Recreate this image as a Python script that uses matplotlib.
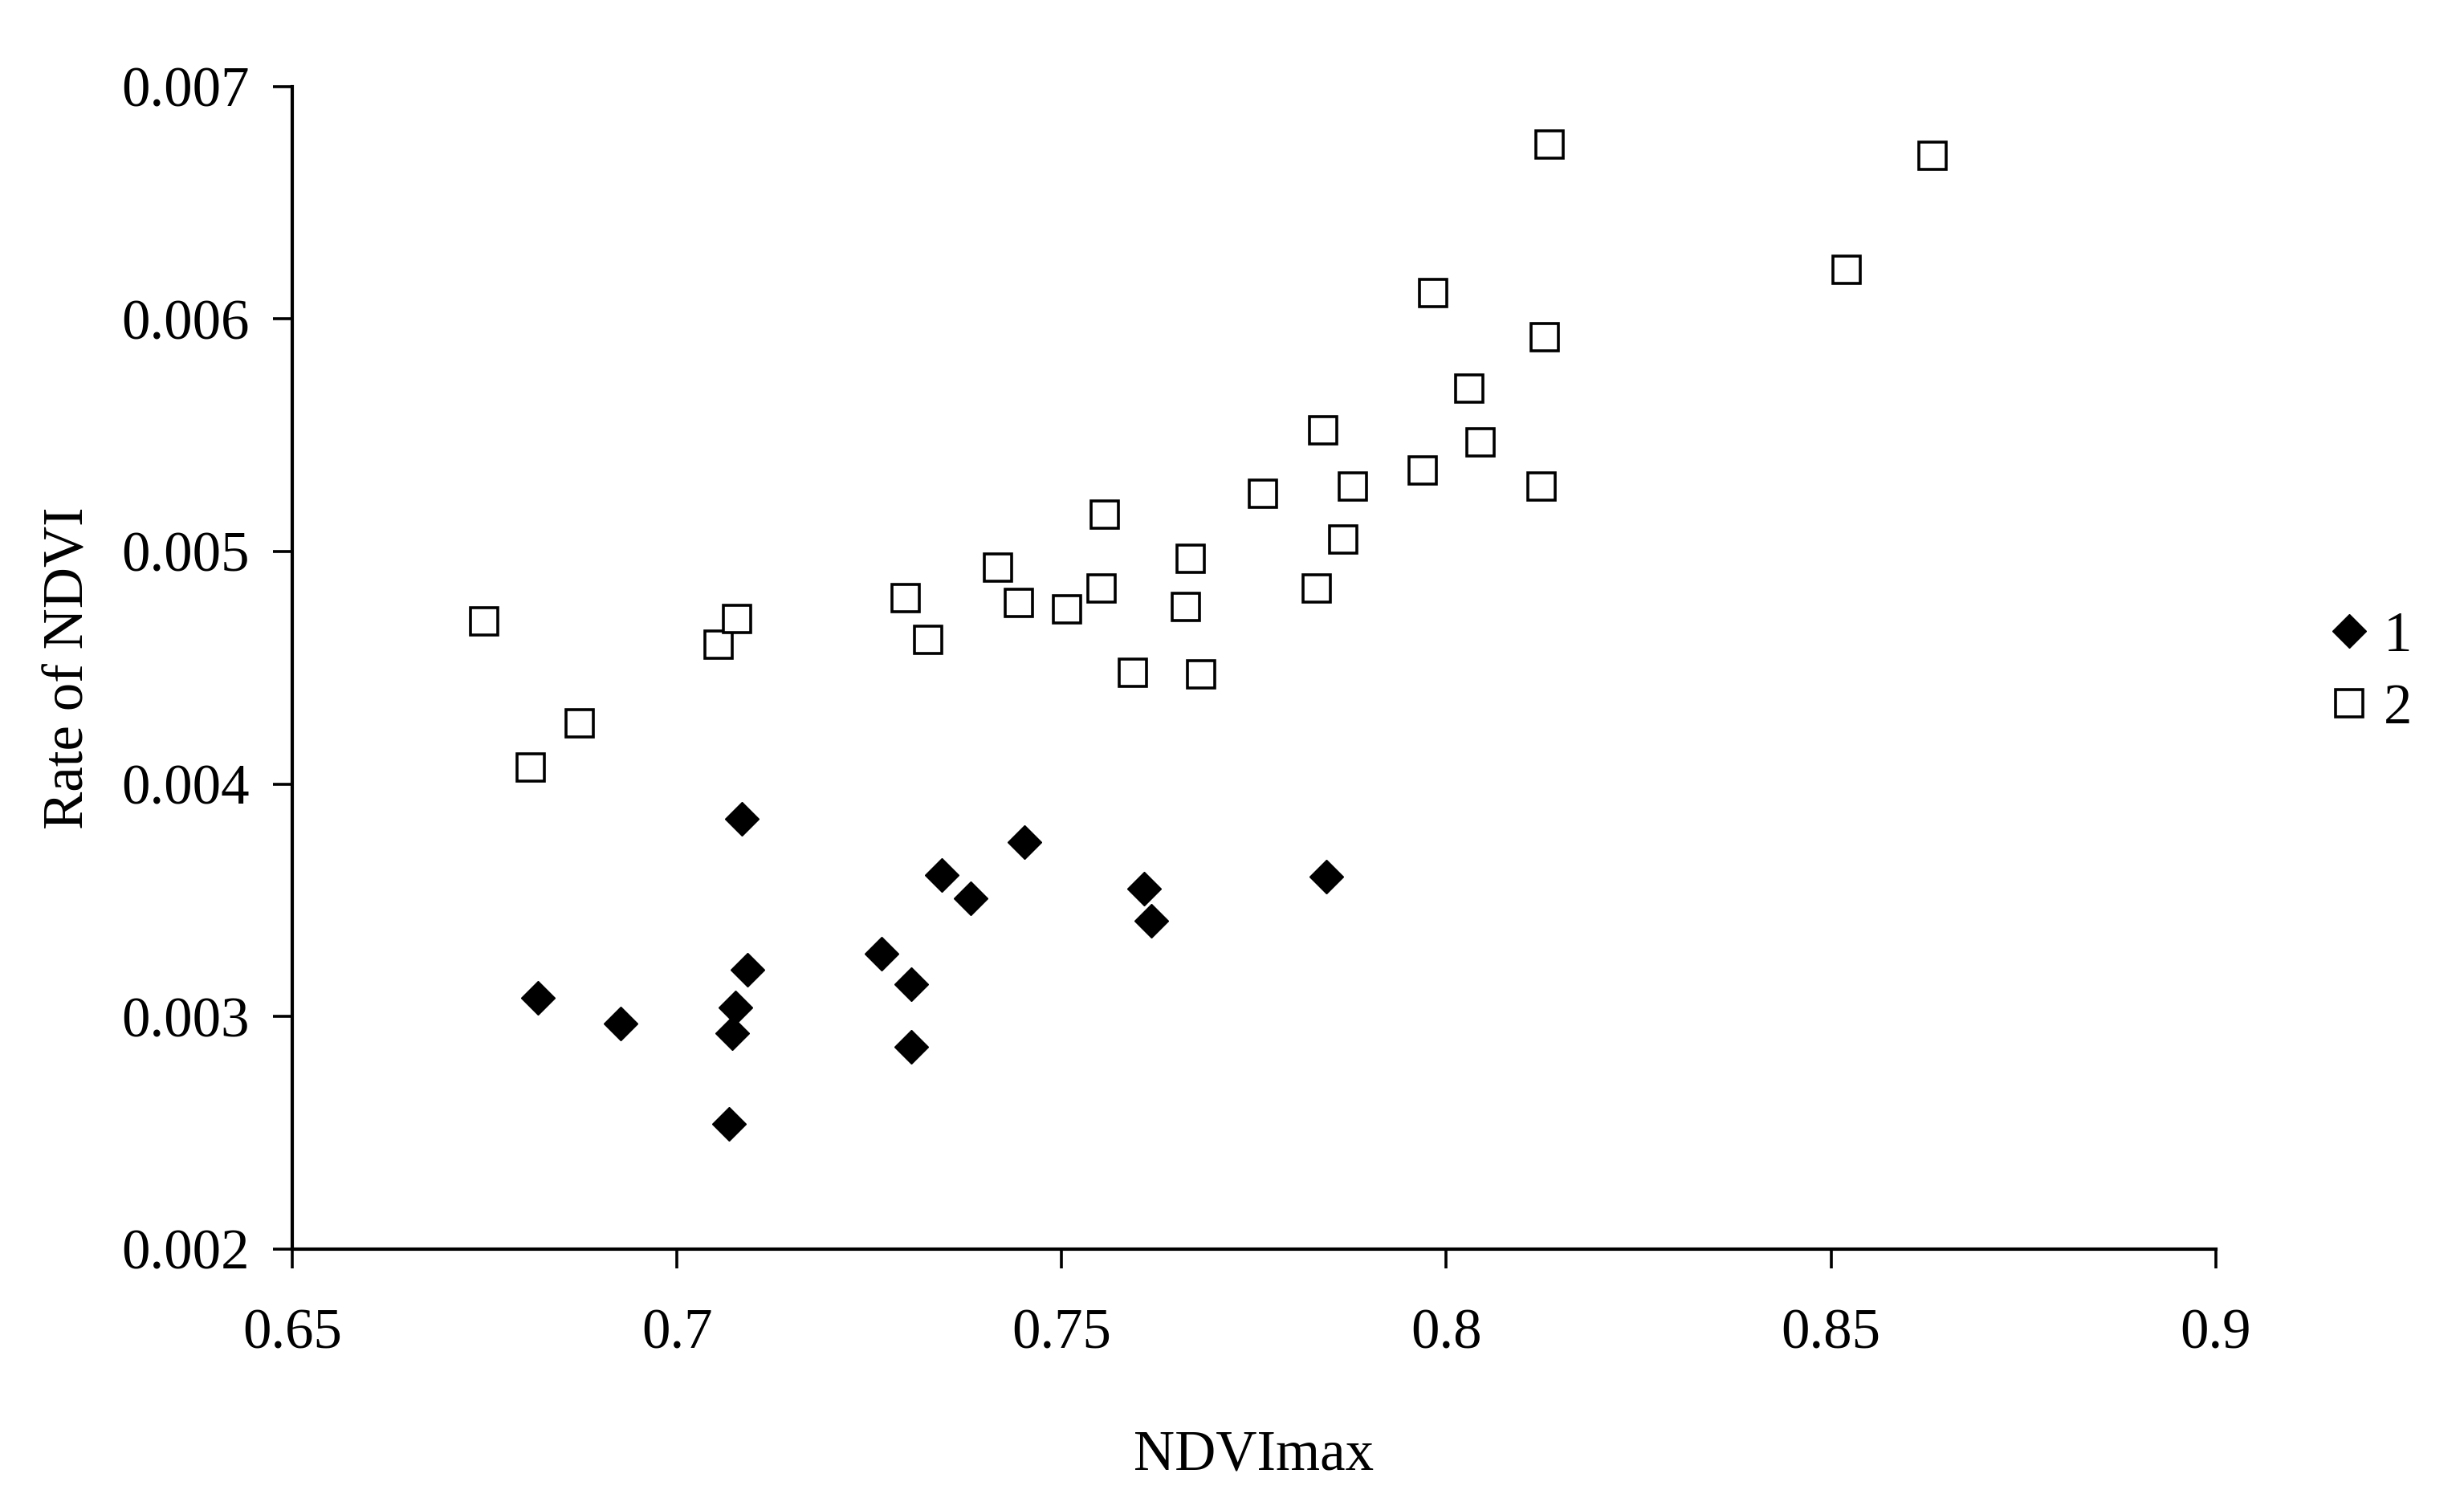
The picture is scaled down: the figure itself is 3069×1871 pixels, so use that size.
import numpy as np
import matplotlib
matplotlib.use("Agg")
import matplotlib.pyplot as plt

# Data
ndvi_max_1 = [0.6819, 0.6927, 0.7068, 0.7072, 0.7076, 0.7084, 0.7092, 0.7266,
              0.7305, 0.7305, 0.7344, 0.7382, 0.7452, 0.7607, 0.7617, 0.7844]
rate_1 = [0.00308, 0.00297, 0.00254, 0.00293, 0.00304, 0.00385, 0.00320, 0.00327,
          0.00314, 0.00287, 0.00361, 0.00351, 0.00375, 0.00355, 0.00341, 0.00360]

ndvi_max_2 = [0.6749, 0.6810, 0.6874, 0.7054, 0.7078, 0.7297, 0.7327, 0.7417,
              0.7444, 0.7507, 0.7556, 0.7552, 0.7593, 0.7662, 0.7668, 0.7681,
              0.7762, 0.7832, 0.7840, 0.7866, 0.7879, 0.7969, 0.7983, 0.8030,
              0.8044, 0.8124, 0.8128, 0.8134, 0.8520, 0.8632]
rate_2 = [0.00470, 0.00407, 0.00426, 0.00460, 0.00471, 0.00480, 0.00462, 0.00493,
          0.00478, 0.00475, 0.00516, 0.00484, 0.00448, 0.00476, 0.00497, 0.00447,
          0.00525, 0.00484, 0.00552, 0.00505, 0.00528, 0.00535, 0.00611, 0.00570,
          0.00547, 0.00528, 0.00592, 0.00675, 0.00621, 0.00670]

x_ticks = [0.65, 0.7, 0.75, 0.8, 0.85, 0.9]
x_tick_labels = ["0.65", "0.7", "0.75", "0.8", "0.85", "0.9"]
y_ticks = [0.002, 0.003, 0.004, 0.005, 0.006, 0.007]
y_tick_labels = ["0.002", "0.003", "0.004", "0.005", "0.006", "0.007"]

plt.rcParams['font.family'] = ['Liberation Serif', 'DejaVu Serif']

fig = plt.figure(figsize=(30.69, 18.71), dpi=100)
ax = fig.add_axes([0.1186, 0.1684, 0.8992 - 0.1186, 0.9425 - 0.1684])

ax.plot(ndvi_max_1, rate_1, linestyle='none', marker='D', markersize=21,
        color='black', label='1')
ax.plot(ndvi_max_2, rate_2, linestyle='none', marker='s', markersize=24,
        markerfacecolor='white', markeredgecolor='black', markeredgewidth=2.6,
        label='2')

ax.set_xlim(0.65, 0.9)
ax.set_ylim(0.002, 0.007)
ax.set_xticks(x_ticks)
ax.set_xticklabels(x_tick_labels)
ax.set_yticks(y_ticks)
ax.set_yticklabels(y_tick_labels)

for side in ['top', 'right']:
    ax.spines[side].set_visible(False)
for side in ['left', 'bottom']:
    ax.spines[side].set_linewidth(3)

ax.tick_params(axis='both', direction='out', length=17, width=2.6,
               labelsize=51, color='black')
ax.tick_params(axis='x', pad=36)
ax.tick_params(axis='y', pad=21)

ax.set_xlabel('NDVImax', fontsize=51, labelpad=62)
ax.set_ylabel('Rate of NDVI', fontsize=51, labelpad=24)

ax.legend(loc='center left', bbox_to_anchor=(0.935, 0.552),
          bbox_transform=fig.transFigure, frameon=False, fontsize=51,
          handlelength=0.6, handletextpad=0.3, labelspacing=0.35,
          borderpad=0, numpoints=1)

fig.savefig('out.png', dpi=100, facecolor='white')
